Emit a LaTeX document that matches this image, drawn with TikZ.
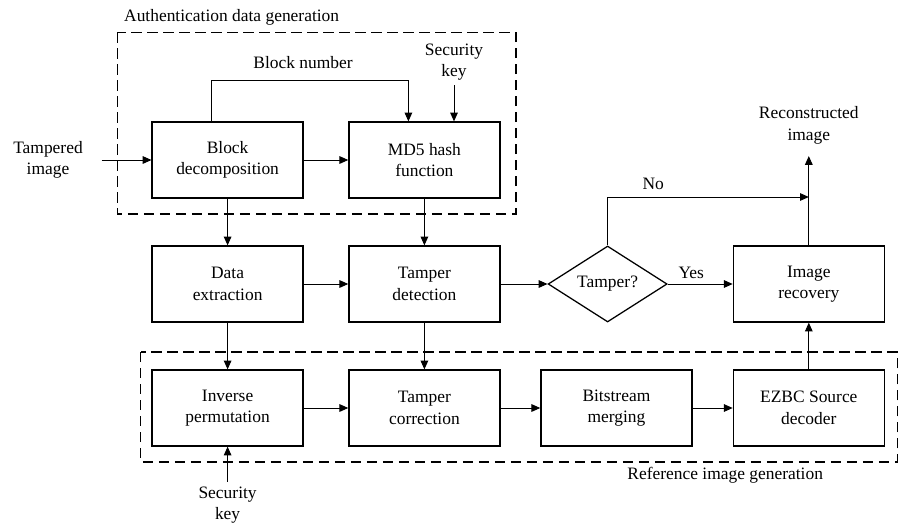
\documentclass[tikz,border=0pt]{standalone}
\usepackage{fontspec}
\setmainfont{LiberationSerif-Regular.ttf}
\usepackage{tikz}
\usetikzlibrary{arrows.meta,shapes.geometric,positioning}
\tikzset{
  blockbox/.style={draw,line width=0.9pt,minimum width=3.775cm,minimum height=1.9cm,align=center},
  decision/.style={draw,diamond,line width=0.9pt,minimum width=2.975cm,minimum height=1.9cm,aspect=1.566,inner sep=0pt},
  arr/.style={-{Triangle[length=0.22cm,width=0.19cm]},line width=0.7pt},
  groupbox/.style={draw,dashed,dash pattern=on 0.26cm off 0.14cm,line width=0.9pt},
  txt/.style={align=center}
}

\begin{document}
\begin{tikzpicture}[>=Stealth,font=\fontsize{12.4}{15.3}\selectfont]
  \useasboundingbox (0,0) rectangle (22.525,-13.1);
  % dashed groups
  \draw[groupbox] (2.94,-0.81) rectangle (12.9,-5.35);
  \draw[groupbox] (3.52,-8.8) rectangle (22.43,-11.55);
  \node[anchor=west] (authlbl) at (2.98,-0.44) {Authentication data generation};
  \node (reflbl) at (18.13,-11.88) {Reference image generation};
  % blocks
  \node[blockbox] (bd) at (5.69,-4.0) {Block\\decomposition};
  \node[blockbox] (md5) at (10.61,-4.0) {MD5 hash\\function};
  \node[blockbox] (de) at (5.69,-7.1) {Data\\extraction};
  \node[blockbox] (td) at (10.61,-7.1) {Tamper\\detection};
  \node[decision] (dec) at (15.19,-7.1) {Tamper?};
  \node[blockbox] (ir) at (20.22,-7.1) {Image\\recovery};
  \node[blockbox] (ip) at (5.69,-10.2) {Inverse\\permutation};
  \node[blockbox] (tc) at (10.61,-10.2) {Tamper\\correction};
  \node[blockbox] (bm) at (15.41,-10.2) {Bitstream\\merging};
  \node[blockbox] (ez) at (20.22,-10.2) {EZBC Source\\decoder};
  % free texts
  \node[txt] (tamp) at (1.2,-4.0) {Tampered\\image};
  \node (bn) at (7.575,-1.575) {Block number};
  \node[txt] (skey) at (11.35,-1.55) {Security\\key};
  \node[txt] (skey2) at (5.69,-12.63) {Security\\key};
  \node[txt] (rec) at (20.22,-3.13) {Reconstructed\\image};
  \node (no) at (16.33,-4.6) {No};
  \node (yes) at (17.28,-6.83) {Yes};
  \coordinate (nojoin) at (20.22,-4.925);
  % connectors
  \draw[arr] ([xshift=0.35cm]tamp.east) -- (bd.west);
  \draw[arr] ([xshift=-0.4cm]bd.north) -- ++(0,1.03) -| ([xshift=-0.4cm]md5.north);
  \draw[arr] (skey.south) -- (skey.south |- md5.north);
  \draw[arr] (bd) -- (md5);
  \draw[arr] (bd) -- (de);
  \draw[arr] (md5) -- (td);
  \draw[arr] (de) -- (td);
  \draw[arr] (td) -- (dec);
  \draw[arr] (dec) -- (ir);
  \draw[arr] (dec.north) |- (nojoin);
  \draw[arr] (ir.north) -- ([yshift=-0.18cm]rec.south);
  \draw[arr] (de) -- (ip);
  \draw[arr] (td) -- (tc);
  \draw[arr] (ip) -- (tc);
  \draw[arr] (tc) -- (bm);
  \draw[arr] (bm) -- (ez);
  \draw[arr] (ez) -- (ir);
  \draw[arr] (skey2.north) -- (ip.south);
\end{tikzpicture}
\end{document}
